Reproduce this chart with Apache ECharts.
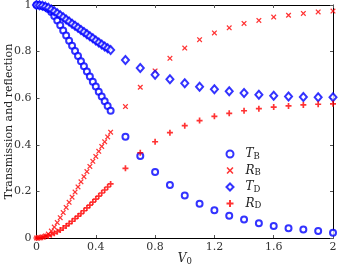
<!DOCTYPE html>
<html><head><meta charset="utf-8">
<script src="https://cdn.jsdelivr.net/npm/echarts@6/dist/echarts.min.js"></script>
<style>html,body{margin:0;padding:0;background:#fff}#c{width:338px;height:268px}</style>
</head><body><div id="c"></div>
<script>
var V0 = [0,0.02,0.04,0.06,0.08,0.10,0.12,0.14,0.16,0.18,0.20,0.22,0.24,0.26,0.28,0.30,0.32,0.34,0.36,0.38,0.40,0.42,0.44,0.46,0.48,0.50,
          0.6,0.7,0.8,0.9,1.0,1.1,1.2,1.3,1.4,1.5,1.6,1.7,1.8,1.9,2.0];
var TB = [1,0.999,0.996,0.991,0.983,0.970,0.953,0.934,0.913,0.891,0.869,0.847,0.825,0.803,0.781,0.759,0.737,0.715,0.693,0.671,0.650,0.628,0.607,0.587,0.566,0.546,
          0.435,0.352,0.283,0.227,0.182,0.147,0.119,0.096,0.079,0.063,0.052,0.042,0.037,0.030,0.023];
var RB = [0,0.001,0.004,0.009,0.017,0.030,0.047,0.066,0.087,0.109,0.131,0.153,0.175,0.197,0.219,0.241,0.263,0.285,0.307,0.329,0.350,0.372,0.393,0.413,0.434,0.454,
          0.564,0.647,0.717,0.771,0.815,0.851,0.880,0.902,0.921,0.934,0.948,0.956,0.964,0.970,0.974];
var TD = [1,0.999,0.997,0.993,0.988,0.981,0.973,0.965,0.956,0.947,0.938,0.929,0.920,0.911,0.902,0.893,0.884,0.875,0.866,0.857,0.848,0.839,0.830,0.822,0.814,0.807,
          0.764,0.730,0.701,0.681,0.664,0.649,0.638,0.630,0.622,0.615,0.611,0.607,0.605,0.604,0.604];
var RD = [0,0.001,0.003,0.006,0.009,0.014,0.020,0.027,0.034,0.043,0.052,0.062,0.072,0.083,0.094,0.105,0.117,0.129,0.141,0.154,0.167,0.180,0.193,0.206,0.219,0.232,
          0.299,0.366,0.413,0.452,0.482,0.504,0.522,0.535,0.546,0.555,0.562,0.567,0.571,0.574,0.576];
var seriesNames = ['TB','RB','TD','RD'];
var legendLabels = {TB:['T','B'], RB:['R','B'], TD:['T','D'], RD:['R','D']};
var xTicks = [0,0.4,0.8,1.2,1.6,2];
var yTicks = [0,0.2,0.4,0.6,0.8,1];

function pairs(ys){ return V0.map(function(v,i){ return [v, ys[i]]; }); }
var SERIF = '"DejaVu Serif","Liberation Serif",serif';
var xMark = 'path://M1.6,0L5,3.4L8.4,0L10,1.6L6.6,5L10,8.4L8.4,10L5,6.6L1.6,10L0,8.4L3.4,5L0,1.6Z';
var plusMark = 'path://M3.6,0H6.4V3.6H10V6.4H6.4V10H3.6V6.4H0V3.6H3.6Z';
var BLUE = '#0000ff', RED = '#ff0000';

var chart = echarts.init(document.getElementById('c'));
var axisCommon = {
  min:0, axisLine:{show:true, onZero:false, lineStyle:{color:'#000', width:1}},
  axisTick:{show:true, inside:true, length:3, lineStyle:{color:'#555'}},
  splitLine:{show:false}
};
chart.setOption({
  animation:false,
  grid:{left:36.5, right:5, top:5, bottom:30, containLabel:false, outerBoundsMode:'none'},
  legend:{
    orient:'vertical', left:220.5, top:143, itemWidth:7, itemHeight:7, itemGap:3.5,
    data:seriesNames,
    formatter:function(n){ return '{i|'+legendLabels[n][0]+'}{s|'+legendLabels[n][1]+'}'; },
    textStyle:{padding:[0,0,0,7], rich:{
      i:{fontFamily:SERIF, fontStyle:'italic', fontSize:12, color:'#222'},
      s:{fontFamily:SERIF, fontSize:8.5, color:'#222', padding:[5,0,0,0]}
    }}
  },
  xAxis:[
    Object.assign({}, axisCommon, {type:'value', max:2, interval:0.4, position:'bottom',
      axisLabel:{fontFamily:SERIF, fontSize:11, color:'#333', margin:4},
      name:'{i|V}{s|0}', nameLocation:'middle', nameGap:14, nameMoveOverlap:false,
      nameTextStyle:{rich:{
        i:{fontFamily:SERIF, fontStyle:'italic', fontSize:12, color:'#222'},
        s:{fontFamily:SERIF, fontSize:8.5, color:'#222', padding:[5,0,0,0]}
      }}}),
    Object.assign({}, axisCommon, {type:'value', max:2, interval:0.4, position:'top', axisLabel:{show:false}})
  ],
  yAxis:[
    Object.assign({}, axisCommon, {type:'value', max:1, interval:0.2, position:'left',
      axisLabel:{fontFamily:SERIF, fontSize:11, color:'#333', margin:5},
      name:'Transmission and reflection', nameLocation:'middle', nameGap:22, nameMoveOverlap:false,
      nameTextStyle:{fontFamily:SERIF, fontSize:11, color:'#222'}}),
    Object.assign({}, axisCommon, {type:'value', max:1, interval:0.2, position:'right', axisLabel:{show:false}})
  ],
  series:[
    {name:'TB', type:'scatter', data:pairs(TB), symbol:'emptyCircle', symbolSize:6,
     itemStyle:{color:BLUE, borderColor:BLUE, borderWidth:1.5}},
    {name:'RB', type:'scatter', data:pairs(RB), symbol:xMark, symbolSize:5.5,
     itemStyle:{color:RED}},
    {name:'TD', type:'scatter', data:pairs(TD), symbol:'emptyDiamond', symbolSize:[7,8],
     itemStyle:{color:BLUE, borderColor:BLUE, borderWidth:1.5}},
    {name:'RD', type:'scatter', data:pairs(RD), symbol:plusMark, symbolSize:6,
     itemStyle:{color:RED}}
  ]
});
</script></body></html>
